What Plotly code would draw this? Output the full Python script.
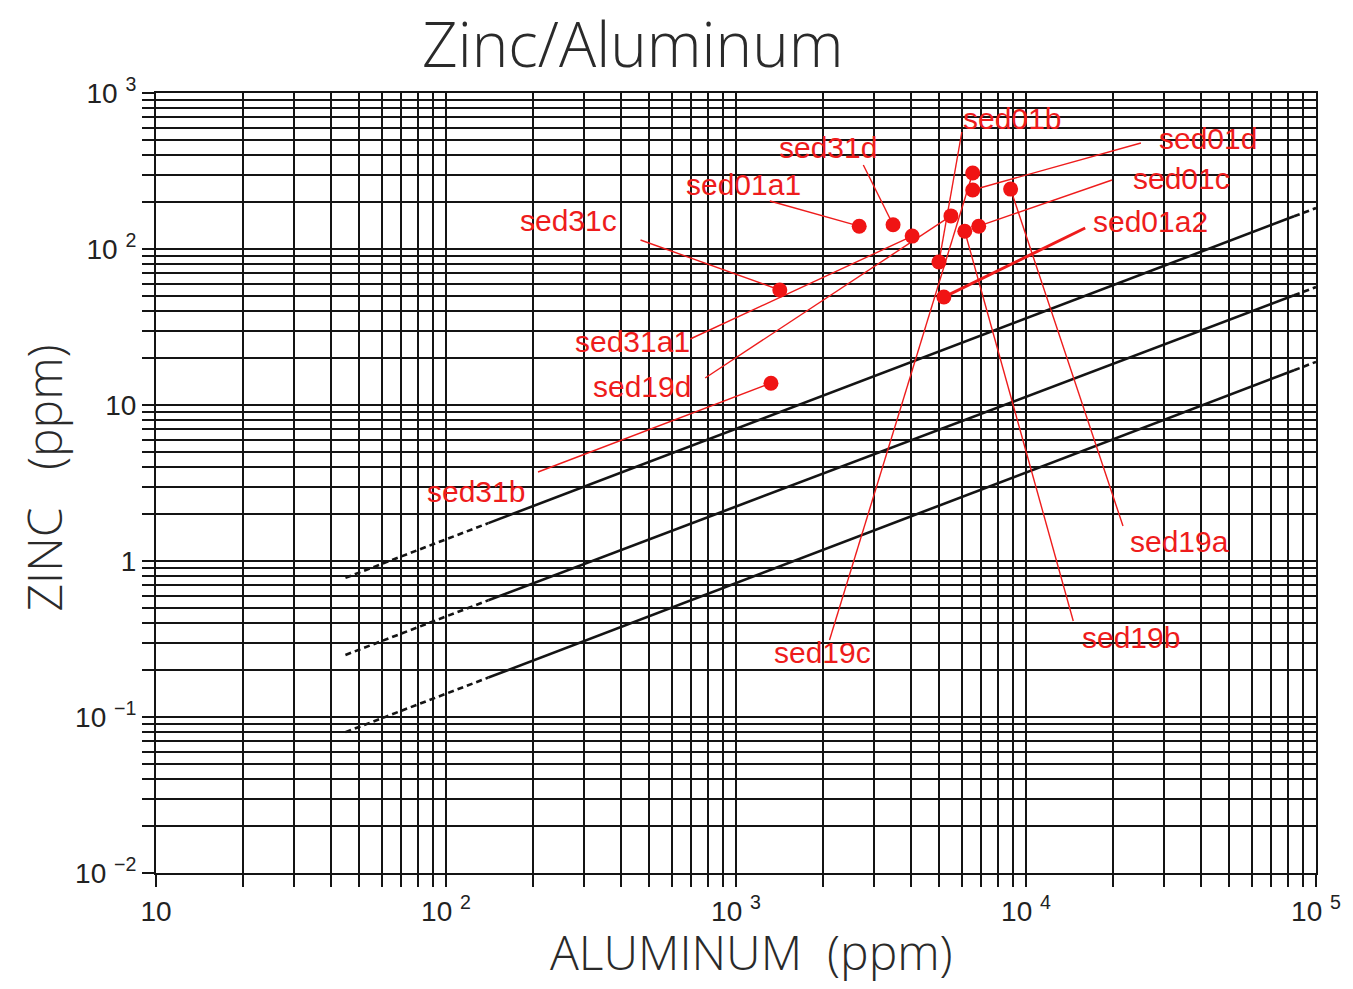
import plotly.graph_objects as go

# Sample concentrations in ppm
samples = ["sed01a1", "sed31d", "sed31a1", "sed31c", "sed19d", "sed01b", "sed01a2",
           "sed19b", "sed01c", "sed19c", "sed01d", "sed19a", "sed31b"]
aluminum = [2660, 3480, 4050, 1416, 5510, 5010, 5210, 6150, 6870, 6550, 6550, 8850, 1320]
zinc = [140, 143, 121, 54.6, 163, 82.5, 49.2, 130, 140, 307, 239, 242, 13.8]

# Three parallel reference trend lines (dashed at both ends, solid in between)
ref_al = [45, 140, 84000, 100000]
ref_upper = [0.78, 1.75, 162, 183]
ref_middle = [0.25, 0.56, 50.5, 57]
ref_lower = [0.080, 0.179, 16.7, 18.9]

# Axis tick labels
x_decades = [10, 100, 1000, 10000, 100000]
x_labels = ["10", "10 <sup>2</sup>", "10 <sup>3</sup>", "10 <sup>4</sup>", "10 <sup>5</sup>"]
y_decades = [0.01, 0.1, 1, 10, 100, 1000]
y_labels = ["10 <sup>−2</sup>", "10 <sup>−1</sup>", "1", "10", "10 <sup>2</sup>", "10 <sup>3</sup>"]

# ---- page geometry (pixels) ----
W, H = 1353, 989
L, R, T, B = 156, 1322, 93, 873


def log_x(px):
    return 1 + 4 * (px - L) / (R - L)


def log_y(py):
    return 3 - 5 * (py - T) / (B - T)


def paper_x(px):
    return (px - L) / (R - L)


def paper_y(py):
    return (B - py) / (B - T)


# label text centre and leader start, in page pixels
label_layout = {
    "sed01b": ((1016, 118), (966, 132)),
    "sed31d": ((831, 147), (867, 165)),
    "sed01a1": ((747, 184), (773, 201)),
    "sed01d": ((1213, 138), (1146, 143)),
    "sed01c": ((1187, 178), (1117, 180)),
    "sed31c": ((571, 220), (643, 240)),
    "sed01a2": ((1156, 221), (1090, 228)),
    "sed31a1": ((635, 341), (693, 339)),
    "sed19d": ((645, 386), (708, 378)),
    "sed31b": ((478, 491), (540, 472)),
    "sed19a": ((1185, 541), (1128, 526)),
    "sed19b": ((1136, 637), (1078, 621)),
    "sed19c": ((826, 652), (833, 640)),
}

RED = "#ee1c1c"
INK = "#141414"

fig = go.Figure()

# reference lines
for ys in (ref_upper, ref_middle, ref_lower):
    fig.add_trace(go.Scatter(x=ref_al[0:2], y=ys[0:2], mode="lines",
                             line=dict(color=INK, width=2.6, dash="6px,4px"),
                             showlegend=False, hoverinfo="skip"))
    fig.add_trace(go.Scatter(x=ref_al[1:3], y=ys[1:3], mode="lines",
                             line=dict(color=INK, width=2.6),
                             showlegend=False, hoverinfo="skip"))
    fig.add_trace(go.Scatter(x=ref_al[2:4], y=ys[2:4], mode="lines",
                             line=dict(color=INK, width=2.6, dash="6px,4px"),
                             showlegend=False, hoverinfo="skip"))

# leader lines from each label to its sample point
annotations = []
for name, al, zn in zip(samples, aluminum, zinc):
    (tx, ty), (sx, sy) = label_layout[name]
    fig.add_trace(go.Scatter(
        x=[10 ** log_x(sx), al], y=[10 ** log_y(sy), zn], mode="lines",
        line=dict(color=RED, width=3 if name == "sed01a2" else 1.4),
        showlegend=False, hoverinfo="skip"))
    annotations.append(dict(
        x=log_x(tx), y=log_y(ty), xref="x", yref="y", text=name,
        showarrow=False, xanchor="center", yanchor="middle",
        font=dict(family="Liberation Sans, Arial, sans-serif", size=30, color=RED)))

# sample points
fig.add_trace(go.Scatter(
    x=aluminum, y=zinc, mode="markers", text=samples,
    marker=dict(color="#f01414", size=15, line=dict(width=0)),
    showlegend=False, hovertemplate="%{text}<br>Al %{x} ppm<br>Zn %{y} ppm<extra></extra>"))

# full log grid: lines at every 1..9 x 10^k
x_grid = [m * 10 ** e for e in range(1, 5) for m in range(1, 10)] + [100000]
x_text = [x_labels[x_decades.index(v)] if v in x_decades else "" for v in x_grid]
y_grid = [m * 10.0 ** e for e in range(-2, 3) for m in range(1, 10)] + [1000]
y_text = []
for v in y_grid:
    match = [lab for d, lab in zip(y_decades, y_labels) if abs(v - d) / d < 1e-9]
    y_text.append(match[0] if match else "")

tick_font = dict(family="Liberation Sans, Arial, sans-serif", size=28, color="#222")
axis_common = dict(
    type="log", showgrid=True, gridcolor=INK, gridwidth=2,
    ticks="outside", ticklen=12, tickwidth=2, tickcolor=INK,
    showline=True, linecolor=INK, linewidth=2, mirror=True,
    zeroline=False, tickfont=tick_font,
)

fig.update_xaxes(range=[1, 5], tickmode="array", tickvals=x_grid, ticktext=x_text, **axis_common)
fig.update_yaxes(range=[-2, 3], tickmode="array", tickvals=y_grid, ticktext=y_text, **axis_common)

title_font = dict(family="Open Sans, Liberation Sans, sans-serif", size=62, color="#2a2a2a", weight=300)
axis_title_font = dict(family="Open Sans, Liberation Sans, sans-serif", size=48, color="#2a2a2a", weight=300)

annotations += [
    dict(text="Zinc/Aluminum", xref="paper", yref="paper", x=paper_x(635), y=paper_y(43),
         showarrow=False, xanchor="center", yanchor="middle", font=title_font),
    dict(text="ALUMINUM  (ppm)", xref="paper", yref="paper", x=paper_x(755), y=paper_y(951),
         showarrow=False, xanchor="center", yanchor="middle", font=axis_title_font),
    dict(text="ZINC   (ppm)", xref="paper", yref="paper", x=paper_x(42), y=paper_y(478),
         showarrow=False, xanchor="center", yanchor="middle", textangle=-90, font=axis_title_font),
]

fig.update_layout(
    width=W, height=H,
    margin=dict(l=L, r=W - R, t=T, b=H - B),
    paper_bgcolor="white", plot_bgcolor="white",
    annotations=annotations,
    showlegend=False,
)

fig.write_html("out.html")
